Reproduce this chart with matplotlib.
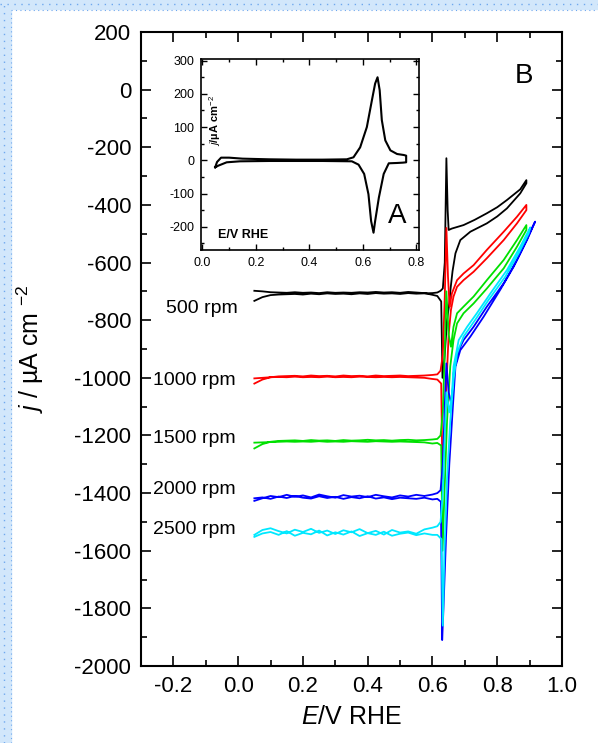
import matplotlib
matplotlib.use("Agg")
import matplotlib.pyplot as plt
from matplotlib.patches import Rectangle
from matplotlib.ticker import MultipleLocator

plt.rcParams['font.family'] = ['Liberation Sans', 'DejaVu Sans']
plt.rcParams['mathtext.fontset'] = 'custom'
plt.rcParams['mathtext.rm'] = 'Liberation Sans'
plt.rcParams['mathtext.it'] = 'Liberation Sans:italic'
plt.rcParams['axes.unicode_minus'] = False

# potencial comun de la meseta (barrido de ida; el de vuelta es el mismo al reves)
E_flat = [0.05, 0.075, 0.10, 0.125, 0.15, 0.175, 0.20, 0.225, 0.25, 0.275, 0.30, 0.325,
          0.35, 0.375, 0.40, 0.425, 0.45, 0.475, 0.50, 0.525, 0.55, 0.575, 0.60]

# 500 rpm
j500_fwd_flat = [-733, -720, -713, -711, -710, -709, -711, -708, -710, -707, -709, -708,
                 -710, -707, -709, -706, -708, -707, -709, -706, -708, -707, -706]
j500_rev_flat = [-698, -700, -703, -704, -705, -703, -705, -704, -706, -703, -705, -704,
                 -705, -703, -704, -702, -704, -703, -705, -702, -704, -706, -712]
E500_fwd_tail = [0.615, 0.625, 0.632, 0.638, 0.643, 0.647, 0.650, 0.660, 0.696, 0.730, 0.768, 0.800, 0.830, 0.871, 0.890]
j500_fwd_tail = [-704, -698, -690, -600, -238, -420, -487, -482, -470, -452, -429, -408, -383, -346, -314]
E500_rev_tail = [0.890, 0.871, 0.830, 0.800, 0.768, 0.717, 0.686, 0.671, 0.662, 0.656, 0.652, 0.645, 0.636, 0.631, 0.627, 0.615]
j500_rev_tail = [-325, -360, -412, -440, -464, -493, -522, -568, -630, -690, -742, -800, -950, -1000, -735, -716]

# 1000 rpm
j1000_fwd_flat = [-1020, -1006, -998, -995, -994, -993, -995, -992, -994, -993, -995, -992,
                  -994, -993, -995, -992, -994, -993, -992, -994, -993, -992, -990]
j1000_rev_flat = [-1002, -1000, -998, -997, -998, -996, -998, -997, -998, -996, -998, -997,
                  -998, -996, -997, -998, -997, -998, -997, -998, -999, -1000, -1004]
E1000_fwd_tail = [0.615, 0.625, 0.632, 0.638, 0.643, 0.648, 0.653, 0.660, 0.676, 0.696, 0.727, 0.768, 0.820, 0.861, 0.890]
j1000_fwd_tail = [-988, -975, -920, -720, -480, -650, -753, -707, -661, -638, -609, -556, -493, -441, -400]
E1000_rev_tail = [0.890, 0.861, 0.820, 0.768, 0.727, 0.696, 0.676, 0.665, 0.657, 0.650, 0.642, 0.636, 0.631, 0.627, 0.615]
j1000_rev_tail = [-418, -464, -522, -585, -632, -661, -684, -718, -765, -850, -1050, -1250, -1350, -1020, -1006]

# 1500 rpm
j1500_fwd_flat = [-1245, -1230, -1222, -1219, -1218, -1217, -1219, -1216, -1218, -1217, -1219, -1216,
                  -1218, -1217, -1215, -1217, -1216, -1218, -1216, -1215, -1217, -1216, -1214]
j1500_rev_flat = [-1225, -1224, -1223, -1222, -1221, -1222, -1221, -1222, -1220, -1222, -1221, -1222,
                  -1220, -1221, -1222, -1220, -1221, -1222, -1221, -1222, -1223, -1224, -1228]
E1500_fwd_tail = [0.615, 0.625, 0.632, 0.638, 0.643, 0.650, 0.657, 0.665, 0.676, 0.696, 0.727, 0.768, 0.820, 0.861, 0.890]
j1500_fwd_tail = [-1212, -1200, -1120, -900, -700, -850, -892, -823, -776, -753, -718, -661, -591, -522, -470]
E1500_rev_tail = [0.890, 0.861, 0.820, 0.768, 0.727, 0.696, 0.676, 0.665, 0.655, 0.645, 0.637, 0.631, 0.627, 0.615]
j1500_rev_tail = [-487, -545, -620, -690, -742, -776, -811, -869, -960, -1150, -1400, -1600, -1235, -1226]

# 2000 rpm
j2000_fwd_flat = [-1427, -1418, -1410, -1414, -1406, -1413, -1408, -1415, -1405, -1411, -1416, -1407,
                  -1412, -1409, -1414, -1406, -1411, -1415, -1408, -1412, -1406, -1410, -1405]
j2000_rev_flat = [-1418, -1415, -1420, -1412, -1417, -1410, -1416, -1419, -1411, -1417, -1413, -1420,
                  -1414, -1418, -1411, -1419, -1415, -1421, -1416, -1418, -1420, -1416, -1422]
E2000_fwd_tail = [0.615, 0.625, 0.632, 0.638, 0.643, 0.650, 0.660, 0.665, 0.681, 0.696, 0.727, 0.768, 0.820, 0.861, 0.892, 0.917]
j2000_fwd_tail = [-1400, -1390, -1300, -1100, -950, -1050, -1100, -984, -904, -869, -823, -753, -672, -591, -522, -458]
E2000_rev_tail = [0.907, 0.881, 0.851, 0.809, 0.758, 0.717, 0.686, 0.671, 0.663, 0.652, 0.642, 0.634, 0.630, 0.626, 0.615]
j2000_rev_tail = [-481, -545, -614, -695, -788, -857, -904, -961, -1100, -1300, -1550, -1800, -1910, -1430, -1420]

# 2500 rpm
j2500_fwd_flat = [-1545, -1528, -1522, -1532, -1540, -1527, -1535, -1524, -1538, -1530, -1542, -1529,
                  -1536, -1525, -1539, -1531, -1544, -1528, -1537, -1533, -1541, -1526, -1520]
j2500_rev_flat = [-1552, -1540, -1535, -1545, -1532, -1548, -1538, -1543, -1530, -1547, -1536, -1544,
                  -1533, -1549, -1539, -1545, -1534, -1548, -1541, -1537, -1546, -1540, -1545]
E2500_fwd_tail = [0.615, 0.625, 0.632, 0.638, 0.643, 0.652, 0.660, 0.665, 0.681, 0.707, 0.737, 0.779, 0.830, 0.871, 0.902]
j2500_fwd_tail = [-1515, -1500, -1400, -1200, -1050, -1120, -1060, -961, -869, -823, -776, -707, -626, -545, -478]
E2500_rev_tail = [0.897, 0.866, 0.825, 0.773, 0.732, 0.696, 0.676, 0.665, 0.655, 0.645, 0.637, 0.632, 0.628, 0.615]
j2500_rev_tail = [-499, -568, -649, -730, -799, -857, -915, -1008, -1150, -1350, -1600, -1860, -1560, -1545]

rpm_labels = ['500 rpm', '1000 rpm', '1500 rpm', '2000 rpm', '2500 rpm']
label_E = [-0.224, -0.264, -0.264, -0.262, -0.264]
label_j = [-761, -1008, -1209, -1386, -1525]
colores = ['black', '#ff0000', '#00e000', '#0000ff', '#00e8ff']

# voltamograma del inserto A
ins_E_fwd = [0.048, 0.055, 0.07, 0.10, 0.15, 0.25, 0.35, 0.45, 0.54, 0.565, 0.590, 0.615, 0.634,
             0.646, 0.655, 0.663, 0.671, 0.684, 0.703, 0.728, 0.753, 0.762]
ins_j_fwd = [-21, -5, 8, 8, 5, 3, 2, 2, 3, 9, 39, 100, 181, 231, 250, 211, 121, 60, 30, 19, 16, 14]
ins_E_rev = [0.762, 0.750, 0.728, 0.697, 0.678, 0.660, 0.646, 0.640, 0.631, 0.621, 0.605, 0.584,
             0.559, 0.45, 0.35, 0.25, 0.141, 0.091, 0.060, 0.048]
ins_j_rev = [-6, -7, -8, -9, -41, -112, -183, -218, -183, -102, -41, -13, -3, -2, -2, -2, -3, -6, -16, -21]

fwd_flat = [j500_fwd_flat, j1000_fwd_flat, j1500_fwd_flat, j2000_fwd_flat, j2500_fwd_flat]
rev_flat = [j500_rev_flat, j1000_rev_flat, j1500_rev_flat, j2000_rev_flat, j2500_rev_flat]
fwd_E = [E500_fwd_tail, E1000_fwd_tail, E1500_fwd_tail, E2000_fwd_tail, E2500_fwd_tail]
fwd_j = [j500_fwd_tail, j1000_fwd_tail, j1500_fwd_tail, j2000_fwd_tail, j2500_fwd_tail]
rev_E = [E500_rev_tail, E1000_rev_tail, E1500_rev_tail, E2000_rev_tail, E2500_rev_tail]
rev_j = [j500_rev_tail, j1000_rev_tail, j1500_rev_tail, j2000_rev_tail, j2500_rev_tail]

fig = plt.figure(figsize=(5.98, 7.43), dpi=100)

# marco azul de la pagina
azul = '#d2e7fb'
fig.patches.append(Rectangle((0, 0), 11 / 598, 1, transform=fig.transFigure, color=azul, zorder=-5))
fig.patches.append(Rectangle((0, 1 - 9 / 743), 1, 9 / 743, transform=fig.transFigure, color=azul, zorder=-5))
fig.lines.append(plt.Line2D([0, 1], [1 - 4 / 743, 1 - 4 / 743], transform=fig.transFigure,
                            color='#6fa8ee', lw=1.0, ls=(0, (1, 4))))
fig.lines.append(plt.Line2D([11 / 598, 1], [1 - 9.5 / 743, 1 - 9.5 / 743], transform=fig.transFigure,
                            color='#6fa8ee', lw=0.8, ls=(0, (1, 3))))
fig.lines.append(plt.Line2D([11 / 598, 11 / 598], [0, 1 - 9.5 / 743], transform=fig.transFigure,
                            color='#6fa8ee', lw=0.8, ls=(0, (1, 3))))
fig.lines.append(plt.Line2D([4 / 598, 4 / 598], [0, 1], transform=fig.transFigure,
                            color='#6fa8ee', lw=1.0, ls=(0, (1, 4))))

ax = fig.add_axes([141 / 598, 1 - 666 / 743, 421 / 598, 634 / 743])
for i in range(5):
    E = E_flat + fwd_E[i] + rev_E[i] + E_flat[::-1]
    j = fwd_flat[i] + fwd_j[i] + rev_j[i] + rev_flat[i][::-1]
    ax.plot(E, j, color=colores[i], lw=1.3)
    ax.text(label_E[i], label_j[i], rpm_labels[i], fontsize=14, va='center', ha='left')

ax.set_xlim(-0.3, 1.0)
ax.set_ylim(-2000, 200)
ax.xaxis.set_major_locator(MultipleLocator(0.2))
ax.xaxis.set_minor_locator(MultipleLocator(0.1))
ax.yaxis.set_major_locator(MultipleLocator(200))
ax.yaxis.set_minor_locator(MultipleLocator(100))
ax.xaxis.set_major_formatter(plt.FuncFormatter(lambda v, p: '%.1f' % v))
ax.tick_params(which='both', direction='in', top=True, right=True, width=1.2, labelsize=16, pad=7)
ax.tick_params(which='major', length=7)
ax.tick_params(which='minor', length=4)
for s in ax.spines.values():
    s.set_linewidth(1.5)
ax.set_xlabel(r'$E$/V RHE', fontsize=18, labelpad=6)
ax.set_ylabel(r'$j$ / µA cm $^{-2}$', fontsize=18)
ax.yaxis.set_label_coords(-0.225, 0.5)
ax.text(0.91, 0.93, 'B', transform=ax.transAxes, fontsize=20, ha='center', va='center')

# inserto A
ins = fig.add_axes([201 / 598, 1 - 250 / 743, 218 / 598, 191 / 743])
ins.plot(ins_E_fwd + ins_E_rev, ins_j_fwd + ins_j_rev, color='black', lw=1.5)
ins.set_xlim(-0.005, 0.81)
ins.set_ylim(-270, 305)
ins.xaxis.set_major_locator(MultipleLocator(0.2))
ins.xaxis.set_minor_locator(MultipleLocator(0.1))
ins.yaxis.set_major_locator(MultipleLocator(100))
ins.yaxis.set_minor_locator(MultipleLocator(50))
ins.xaxis.set_major_formatter(plt.FuncFormatter(lambda v, p: '%.1f' % v))
ins.tick_params(which='both', direction='in', top=True, right=True, width=1.0, labelsize=9, pad=5)
ins.tick_params(which='major', length=4)
ins.tick_params(which='minor', length=2.5)
for s in ins.spines.values():
    s.set_linewidth(1.2)
ins.text(0.03, 0.68, r'$j$/µA cm$^{-2}$', transform=ins.transAxes, rotation=90, fontsize=8,
         fontweight='bold', ha='left', va='center')
ins.text(0.08, 0.08, 'E/V RHE', transform=ins.transAxes, fontsize=9, fontweight='bold',
         ha='left', va='center')
ins.text(0.9, 0.18, 'A', transform=ins.transAxes, fontsize=20, ha='center', va='center')

fig.savefig('out.png', dpi=100)
